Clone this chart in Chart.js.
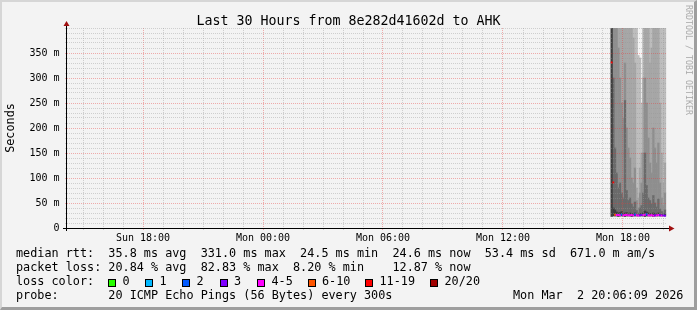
<!DOCTYPE html>
<html>
<head>
<meta charset="utf-8">
<script src="https://cdn.jsdelivr.net/npm/chart.js@4.4.1/dist/chart.umd.min.js"></script>
<style>
    html, body { margin: 0; padding: 0; background: #f3f3f3; }
    #wrap { position: relative; width: 697px; height: 310px; overflow: hidden; background: #f3f3f3;
            font-family: 'DejaVu Sans Mono', monospace; color: #000; }
    #chart { position: absolute; left: 0; top: 0; }
    .txt { position: absolute; white-space: pre; line-height: 1; font-size: 11.8px; }
    #title { position: absolute; left: 0; width: 697px; top: 13.7px; text-align: center;
             font-size: 13.3px; line-height: 1; white-space: pre; }
    #mark { position: absolute; left: 692.5px; top: 5px; font-size: 8.3px; line-height: 1;
            color: #ababab; white-space: pre; transform: rotate(90deg); transform-origin: 0 0; }
    .box { position: absolute; width: 6px; height: 6px; border: 1px solid #000; }
    #frame { position: absolute; left: 0; top: 0; right: 0; bottom: 0; pointer-events: none;
             border-style: solid; border-width: 2px 3px 3px 2px;
             border-color: #d6d6d6 #9e9e9e #9e9e9e #d6d6d6; }
</style>
</head>
<body>
<div id="wrap">
    <canvas id="chart" width="697" height="310"></canvas>
    <div id="title">Last 30 Hours from 8e282d41602d to AHK</div>
    <div id="mark">RRDTOOL / TOBI OETIKER</div>
    <div class="txt" style="left:16px; top:248px;">median rtt:  35.8 ms avg  331.0 ms max  24.5 ms min  24.6 ms now  53.4 ms sd  671.0 m am/s</div>
    <div class="txt" style="left:16px; top:262px;">packet loss: 20.84 % avg  82.83 % max  8.20 % min    12.87 % now</div>
    <div class="txt" style="left:16px; top:276px;">loss color:</div>
    <div id="lossLegend"></div>
    <div class="txt" style="left:16px; top:290px;">probe:       20 ICMP Echo Pings (56 Bytes) every 300s</div>
    <div class="txt" style="left:513px; top:290px;">Mon Mar  2 20:06:09 2026</div>
    <div id="frame"></div>
</div>
<script>
// Sample times (Monday), every 300 s
const sampleTimes = ['17:26','17:31','17:36','17:41','17:46','17:51','17:56','18:01','18:06','18:11','18:16',
                     '18:21','18:26','18:31','18:36','18:41','18:46','18:51','18:56','19:01','19:06','19:11',
                     '19:16','19:21','19:26','19:31','19:36','19:41','19:46','19:51','19:56','20:01','20:06'];

// Smoke: ping spread per sample (ms), from lowest ping up to highest ping
const smokeLow  = [23,24,24,24,23,24,24,24,23,24,24,24,23,24,24,24,24,24,24,24,23,24,24,24,24,23,24,24,24,24,24,24,24];
const smokeQ1   = [460,40,36,32,30,31,33,29,30,31,28,30,29,28,30,27,26,28,29,30,34,32,30,29,28,30,29,28,30,27,27,26,28];
const smokeQ2   = [460,300,160,110,80,90,70,60,255,75,55,60,48,42,52,35,30,40,45,70,150,85,60,55,48,65,50,42,58,38,33,30,36];
const smokeQ3   = [460,460,460,460,360,300,250,220,330,200,160,140,100,90,120,55,40,70,90,150,300,250,180,130,110,200,160,130,170,90,60,45,70];
const smokeQ4   = [460,460,460,460,460,460,460,460,460,460,460,460,460,380,330,80,60,120,150,300,460,460,400,330,360,460,460,420,460,250,150,90,130];
const smokeHigh = [460,460,460,460,460,460,460,460,460,460,460,460,460,460,460,460,345,340,250,460,460,460,460,460,460,460,460,460,460,460,460,460,460];

// Median rtt (ms) and lost pings out of 20
const medianMs  = [331,91,26.5,25.8,26.1,25.5,26.8,25.2,25.9,26.3,25.4,25.7,26.0,25.1,27.0,25.6,24.9,25.3,26.2,25.8,26.5,27.2,25.5,25.0,25.9,24.5,25.6,25.2,26.0,25.4,24.8,25.3,24.6];
const lossCount = [14,12,7,5,4,4,2,4,5,4,4,5,4,4,2,4,4,3,3,4,5,2,4,4,5,4,3,4,4,3,4,3,3];

// Loss colour legend
const lossLabels = ['0','1','2','3','4-5','6-10','11-19','20/20'];
const lossUpper  = [0, 1, 2, 3, 5, 10, 19, 20];
const lossColors = ['#26ff00','#00b8ff','#0059ff','#7e00ff','#ff00ff','#ff5500','#ff0000','#a10000'];

// Axis ticks
const xTickHours  = [18, 24, 30, 36, 42];
const xTickLabels = ['Sun 18:00','Mon 00:00','Mon 06:00','Mon 12:00','Mon 18:00'];
const yTickValues = [0, 50, 100, 150, 200, 250, 300, 350];
const yTickLabels = ['0','50 m','100 m','150 m','200 m','250 m','300 m','350 m'];

const smokeShades = ['#3e3e3e','#6a6a6a','#8e8e8e','#a6a6a6','#bdbdbd'];

const FONT = 'DejaVu Sans Mono';
const MINOR = 'rgba(150,150,150,0.4)';
const MAJOR = 'rgba(230,60,60,0.4)';

const toHours = (t) =>
{
    const [h, m] = t.split(':').map(Number);
    return 24 + h + m / 60;
};
const sampleHours = sampleTimes.map(toHours);
const lossColor = (n) => lossColors[lossUpper.findIndex((u) => n <= u)];

// Loss legend boxes
const boxX = [108, 145, 182, 219.5, 257, 307.5, 365, 430];
const legend = document.getElementById('lossLegend');
lossLabels.forEach((label, i) =>
{
    const b = document.createElement('div');
    b.className = 'box';
    b.style.left = boxX[i] + 'px';
    b.style.top = '279px';
    b.style.background = lossColors[i];
    legend.appendChild(b);
    const t = document.createElement('div');
    t.className = 'txt';
    t.style.left = (boxX[i] + 14.5) + 'px';
    t.style.top = '276px';
    t.textContent = label;
    legend.appendChild(t);
});

// Datasets
const bounds = [smokeLow, smokeQ1, smokeQ2, smokeQ3, smokeQ4, smokeHigh];
const smokeDatasets = smokeShades.map((shade, k) => ({
    type: 'bar'
    ,data: sampleHours.map((x, i) => ({x: x, y: [bounds[k][i], bounds[k + 1][i]]}))
    ,backgroundColor: shade
    ,borderWidth: 0
    ,grouped: false
    ,barPercentage: 1
    ,categoryPercentage: 1
}));

const medianDataset = {
    type: 'line'
    ,data: sampleHours.map((x, i) => ({x: x, y: medianMs[i]}))
    ,showLine: false
    ,pointStyle: 'line'
    ,pointRadius: 0.9
    ,pointHoverRadius: 0.9
    ,pointBorderWidth: 2
    ,pointBorderColor: lossCount.map(lossColor)
    ,pointBackgroundColor: lossCount.map(lossColor)
};

// Axes with arrows (rrdtool style)
const axisArrows = {
    id: 'axisArrows'
    ,afterDraw(chart)
    {
        const {ctx, chartArea: a} = chart;
        ctx.save();
        ctx.strokeStyle = '#000';
        ctx.lineWidth = 1;
        ctx.beginPath();
        ctx.moveTo(a.left - 4, a.bottom + 0.5);
        ctx.lineTo(a.right + 2, a.bottom + 0.5);
        ctx.moveTo(a.left - 0.5, a.bottom + 3);
        ctx.lineTo(a.left - 0.5, a.top - 2);
        ctx.stroke();
        ctx.fillStyle = '#a01010';
        ctx.beginPath();
        ctx.moveTo(a.right + 2, a.bottom - 2.5);
        ctx.lineTo(a.right + 7.5, a.bottom + 0.5);
        ctx.lineTo(a.right + 2, a.bottom + 3.5);
        ctx.closePath();
        ctx.fill();
        ctx.beginPath();
        ctx.moveTo(a.left - 3.5, a.top - 2);
        ctx.lineTo(a.left - 0.5, a.top - 7);
        ctx.lineTo(a.left + 2.5, a.top - 2);
        ctx.closePath();
        ctx.fill();
        ctx.restore();
    }
};

new Chart(document.getElementById('chart'),
{
    type: 'bar'
    ,data: {datasets: [medianDataset, ...smokeDatasets]}
    ,options:
    {
        responsive: false
        ,animation: false
        ,events: []
        ,layout: {padding: {left: 0, right: 30, top: 28, bottom: 62}}
        ,plugins: {legend: {display: false}, tooltip: {enabled: false}, title: {display: false}}
        ,scales:
        {
            x: {
                type: 'linear'
                ,min: 14.2
                ,max: 44.2
                ,offset: false
                ,afterFit: (s) => { s.height = 20; }
                ,afterBuildTicks: (s) =>
                {
                    const t = [];
                    for (let h = 15; h <= 44; h++) t.push({value: h});
                    s.ticks = t;
                }
                ,grid: {
                    z: 1
                    ,offset: false
                    ,lineWidth: 1
                    ,color: (c) => (c.tick && xTickHours.includes(c.tick.value)) ? MAJOR : MINOR
                    ,tickColor: (c) => (c.tick && xTickHours.includes(c.tick.value)) ? MAJOR : MINOR
                    ,tickLength: 2
                }
                ,border: {display: false, dash: [1, 1]}
                ,ticks: {
                    autoSkip: false
                    ,maxRotation: 0
                    ,padding: 2
                    ,color: '#000'
                    ,font: {family: FONT, size: 10}
                    ,callback: (v) =>
                    {
                        const i = xTickHours.indexOf(v);
                        return i >= 0 ? xTickLabels[i] : '';
                    }
                }
            }
            ,y: {
                min: 0
                ,max: 400
                ,afterFit: (s) => { s.width = 67; }
                ,afterBuildTicks: (s) =>
                {
                    const t = [];
                    for (let v = 0; v <= 400; v += 10) t.push({value: v});
                    s.ticks = t;
                }
                ,grid: {
                    z: 1
                    ,lineWidth: 1
                    ,color: (c) => (c.tick && yTickValues.includes(c.tick.value)) ? MAJOR : MINOR
                    ,tickColor: (c) => (c.tick && yTickValues.includes(c.tick.value)) ? MAJOR : MINOR
                    ,tickLength: 2
                }
                ,border: {display: false, dash: [1, 1]}
                ,ticks: {
                    autoSkip: false
                    ,padding: 5.5
                    ,color: '#000'
                    ,font: {family: FONT, size: 10}
                    ,callback: (v) =>
                    {
                        const i = yTickValues.indexOf(v);
                        return i >= 0 ? yTickLabels[i] : '';
                    }
                }
                ,title: {
                    display: true
                    ,text: 'Seconds'
                    ,color: '#000'
                    ,font: {family: FONT, size: 11.8}
                    ,padding: {top: 3.7, bottom: 0}
                }
            }
        }
    }
    ,plugins: [axisArrows]
});
</script>
</body>
</html>
